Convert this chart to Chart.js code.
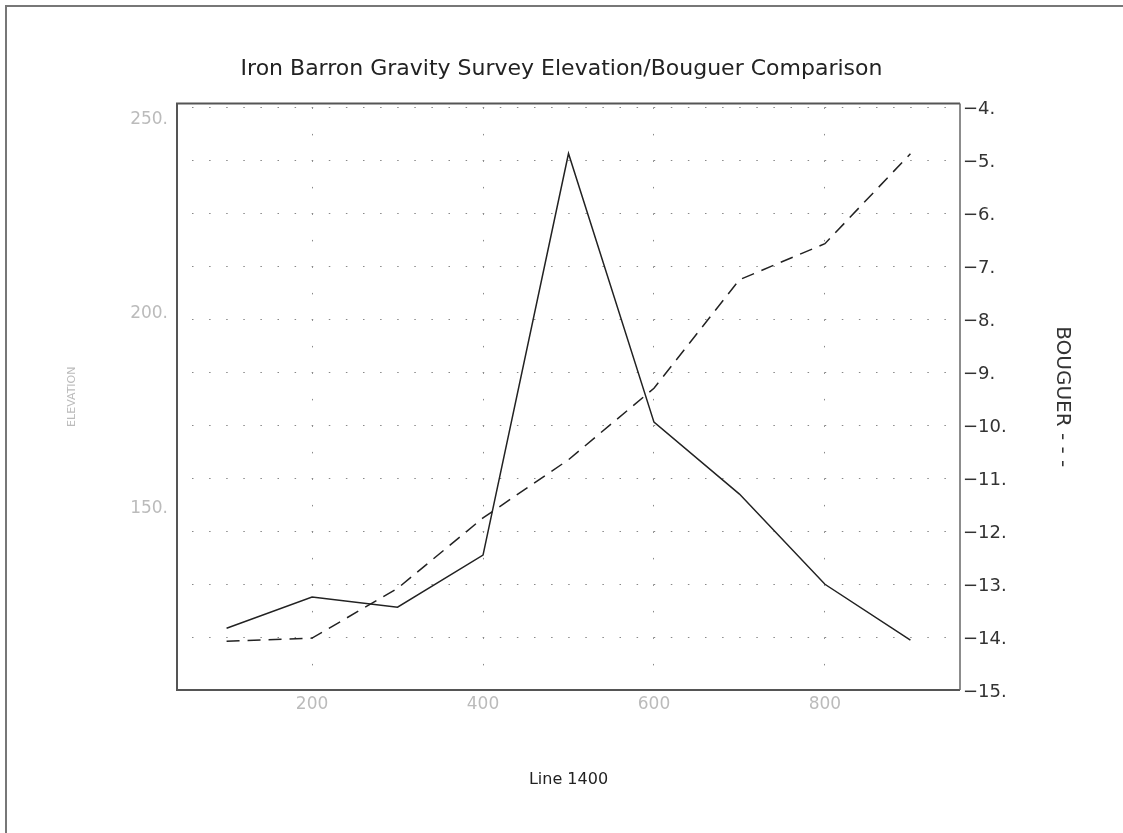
<!DOCTYPE html>
<html>
<head>
<meta charset="utf-8">
<script src="https://cdn.jsdelivr.net/npm/chart.js@4.4.1/dist/chart.umd.min.js"></script>
<style>
  body { margin: 0; background: #fff; }
  #wrap { width: 1123px; height: 833px; }
</style>
</head>
<body>
<div id="wrap"><canvas id="chart" width="1123" height="833"></canvas></div>
<script>
// stations along line 1400
const stations = [100, 200, 300, 400, 500, 600, 700, 800, 900];
// elevation (left axis, solid)
const elevation = [118.1, 126.1, 123.5, 136.9, 240.2, 171.1, 152.6, 129.4, 115.0];
// bouguer anomaly (right axis, dashed)
const bouguer = [-14.08, -14.02, -13.08, -11.75, -10.65, -9.3, -7.25, -6.57, -4.87];

const stationTicks = [200, 400, 600, 800];
const elevationTicks = [150, 200, 250];
const bouguerTicks = [-15, -14, -13, -12, -11, -10, -9, -8, -7, -6, -5, -4];

const FONT = "'DejaVu Sans', 'Liberation Sans', sans-serif";

// plot frame + outer page frame (only top/left edges are visible)
const framePlugin = {
  id: "frame",
  afterDraw(chart) {
    const ctx = chart.ctx;
    const a = chart.chartArea;
    ctx.save();
    ctx.strokeStyle = "#555";
    ctx.lineWidth = 2;
    ctx.beginPath();
    ctx.moveTo(a.right, a.top);
    ctx.lineTo(a.left, a.top);
    ctx.lineTo(a.left, a.bottom);
    ctx.lineTo(a.right, a.bottom);
    ctx.stroke();
    ctx.lineWidth = 1.5;
    ctx.strokeStyle = "#666";
    ctx.beginPath();
    ctx.moveTo(a.right, a.top);
    ctx.lineTo(a.right, a.bottom);
    ctx.stroke();
    // page frame
    ctx.strokeStyle = "#777";
    ctx.lineWidth = 2;
    ctx.beginPath();
    ctx.moveTo(6, 833);
    ctx.lineTo(6, 6);
    ctx.lineTo(1123, 6);
    ctx.stroke();
    ctx.restore();
  },
};

new Chart(document.getElementById("chart"), {
  type: "line",
  data: {
    datasets: [
      {
        label: "Elevation",
        data: stations.map((s, i) => ({ x: s, y: elevation[i] })),
        yAxisID: "y",
        borderColor: "#222",
        borderWidth: 1.5,
        pointRadius: 0,
        tension: 0,
      },
      {
        label: "Bouguer",
        data: stations.map((s, i) => ({ x: s, y: bouguer[i] })),
        yAxisID: "y1",
        borderColor: "#222",
        borderWidth: 1.5,
        borderDash: [13, 8],
        pointRadius: 0,
        tension: 0,
      },
    ],
  },
  options: {
    responsive: false,
    animation: false,
    layout: { padding: 0 },
    plugins: {
      legend: { display: false },
      tooltip: { enabled: false },
      title: {
        display: true,
        text: "Iron Barron Gravity Survey Elevation/Bouguer Comparison",
        color: "#222",
        font: { family: FONT, size: 22, weight: "normal" },
        padding: { top: 56, bottom: 21 },
      },
    },
    scales: {
      x: {
        type: "linear",
        min: 42,
        max: 958,
        afterBuildTicks: (s) => {
          s.ticks = stationTicks.map((v) => ({ value: v }));
        },
        afterFit: (s) => {
          s.height = 143;
        },
        grid: { color: "#888", lineWidth: 1, drawTicks: false },
        border: { display: false, dash: [1.5, 25], dashOffset: 22.5 },
        ticks: {
          color: "#bbb",
          padding: 4,
          maxRotation: 0,
          font: { family: FONT, size: 17 },
        },
        title: {
          display: true,
          text: "Line 1400",
          color: "#222",
          font: { family: FONT, size: 16 },
          padding: { top: 0, bottom: 44 },
        },
      },
      y: {
        position: "left",
        min: 102.2,
        max: 253.1,
        afterBuildTicks: (s) => {
          s.ticks = elevationTicks.map((v) => ({ value: v }));
        },
        afterFit: (s) => {
          s.width = 177;
        },
        grid: { display: false, drawTicks: false },
        border: { display: false },
        ticks: {
          color: "#bbb",
          padding: 9,
          labelOffset: 4,
          font: { family: FONT, size: 17 },
          callback: (v) => v + ".",
        },
        title: {
          display: true,
          text: "ELEVATION",
          color: "#bbb",
          font: { family: FONT, size: 11 },
          padding: { top: 66, bottom: 0 },
        },
      },
      y1: {
        position: "right",
        min: -15,
        max: -3.92,
        afterBuildTicks: (s) => {
          s.ticks = bouguerTicks.map((v) => ({ value: v }));
        },
        afterFit: (s) => {
          s.width = 163;
        },
        grid: { color: "#888", lineWidth: 1, drawTicks: false },
        border: { display: false, dash: [1.5, 15.6], dashOffset: 2.1 },
        ticks: {
          color: "#333",
          padding: 3,
          labelOffset: 2,
          font: { family: FONT, size: 18 },
          callback: (v) => "\u2212" + Math.abs(v) + ".",
        },
        title: {
          display: true,
          text: "BOUGUER - - -",
          color: "#333",
          font: { family: FONT, size: 20 },
          padding: { top: 49, bottom: 0 },
        },
      },
    },
  },
  plugins: [framePlugin],
});
</script>
</body>
</html>
